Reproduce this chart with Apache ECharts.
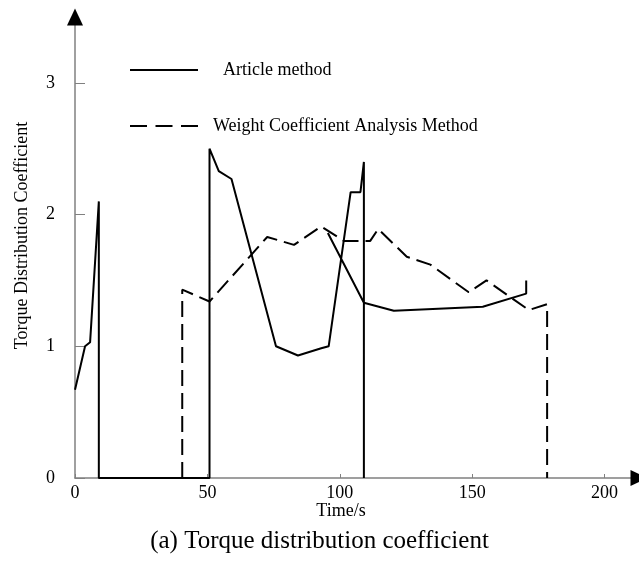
<!DOCTYPE html>
<html>
<head>
<meta charset="utf-8">
<script src="https://cdn.jsdelivr.net/npm/echarts@6/dist/echarts.min.js"></script>
<style>
html,body{margin:0;padding:0;background:#fff;}
#chart{width:639px;height:562px;}
</style>
</head>
<body>
<div id="chart"></div>
<script>
// ---- data ----
const seriesNames = ['Article method', 'Weight Coefficient Analysis Method'];
// Article method (solid); null marks a break in the line
const articleTime  = [0, 3.8, 5.7, 9.0, 9.0, 50.8, 50.8, 54.3, 59.1, 75.9, 84.2, 93.0, 95.8, 104.1, 107.8, 109.1, 109.1, null, 95.5, 109.1, 120.4, 154.0, 170.4, 170.4];
const articleValue = [0.67, 1.0, 1.03, 2.10, 0, 0, 2.50, 2.33, 2.27, 1.0, 0.93, 0.985, 1.0, 2.17, 2.17, 2.40, 0, null, 1.86, 1.33, 1.27, 1.30, 1.40, 1.50];
// Weight Coefficient Analysis Method (dashed)
const weightTime  = [40.5, 40.5, 50.8, 72.6, 82.7, 93.0, 101.5, 111.5, 114.5, 125.3, 134.2, 148.7, 155.4, 171.4, 178.3, 178.3];
const weightValue = [0, 1.43, 1.34, 1.83, 1.77, 1.91, 1.80, 1.80, 1.89, 1.68, 1.62, 1.41, 1.50, 1.275, 1.32, 0];
// axes
const xTicks = [0, 50, 100, 150, 200];
const yTicks = [0, 1, 2, 3];
const xName = 'Time/s';
const yName = 'Torque Distribution Coefficient';
const caption = '(a) Torque distribution coefficient';

function pairs(xs, ys) {
  return xs.map((x, i) => (x === null || ys[i] === null) ? ['-', '-'] : [x, ys[i]]);
}

const FONT = 'Liberation Serif';
const chart = echarts.init(document.getElementById('chart'), null, {renderer: 'canvas'});

const arrowAxis = {
  show: true,
  symbol: ['none', 'triangle'],
  symbolSize: [16, 17],
  lineStyle: {color: '#000', width: 0}
};

chart.setOption({
  backgroundColor: '#fff',
  animation: false,
  title: {
    text: caption,
    left: 'center',
    top: 524,
    textStyle: {fontFamily: FONT, fontSize: 25, fontWeight: 'normal', color: '#000'}
  },
  legend: [
    {
      data: [seriesNames[0]],
      left: 124, top: 56,
      itemWidth: 68, itemHeight: 18,
      itemStyle: {opacity: 0},
      textStyle: {fontFamily: FONT, fontSize: 18, color: '#000', padding: [0, 0, 0, 20]}
    },
    {
      data: [seriesNames[1]],
      left: 124, top: 112,
      itemWidth: 68, itemHeight: 18,
      itemStyle: {opacity: 0},
      lineStyle: {type: [17, 8.5]},
      textStyle: {fontFamily: FONT, fontSize: 18, color: '#000', padding: [0, 0, 0, 10]}
    }
  ],
  grid: {left: 75, right: 0, top: 17, bottom: 84, containLabel: false},
  xAxis: [
    {
      type: 'value', min: 0, max: 213, interval: 50,
      name: xName, nameLocation: 'middle', nameGap: 24, nameMoveOverlap: false,
      nameTextStyle: {fontFamily: FONT, fontSize: 18, color: '#000', padding: [0, 32, 0, 0]},
      axisLine: {show: true, lineStyle: {color: '#808080', width: 1.5}},
      axisTick: {show: true, inside: true, length: 4, customValues: xTicks, lineStyle: {color: '#808080'}},
      axisLabel: {customValues: xTicks, fontFamily: FONT, fontSize: 18, color: '#000', margin: 6},
      splitLine: {show: false}
    },
    {
      type: 'value', min: 0, max: 213, position: 'bottom',
      axisLine: arrowAxis, axisTick: {show: false}, axisLabel: {show: false}, splitLine: {show: false}
    }
  ],
  yAxis: [
    {
      type: 'value', min: 0, max: 3.5, interval: 1,
      name: yName, nameLocation: 'middle', nameGap: 44, nameRotate: 90, nameMoveOverlap: false,
      nameTextStyle: {fontFamily: FONT, fontSize: 18, color: '#000', padding: [0, 0, 0, 24]},
      axisLine: {show: true, lineStyle: {color: '#808080', width: 1.5}},
      axisTick: {show: true, inside: true, length: 10, customValues: yTicks, lineStyle: {color: '#808080'}},
      axisLabel: {customValues: yTicks, fontFamily: FONT, fontSize: 18, color: '#000', margin: 20},
      splitLine: {show: false}
    },
    {
      type: 'value', min: 0, max: 3.5, position: 'left',
      axisLine: arrowAxis, axisTick: {show: false}, axisLabel: {show: false}, splitLine: {show: false}
    }
  ],
  series: [
    {
      name: seriesNames[0], type: 'line', symbol: 'none', connectNulls: false,
      lineStyle: {color: '#000', width: 2, type: 'solid'},
      itemStyle: {color: '#000'},
      data: pairs(articleTime, articleValue), z: 5
    },
    {
      name: seriesNames[1], type: 'line', symbol: 'none',
      lineStyle: {color: '#000', width: 2, type: [16, 7]},
      itemStyle: {color: '#000'},
      data: pairs(weightTime, weightValue), z: 5
    }
  ]
});
</script>
</body>
</html>
